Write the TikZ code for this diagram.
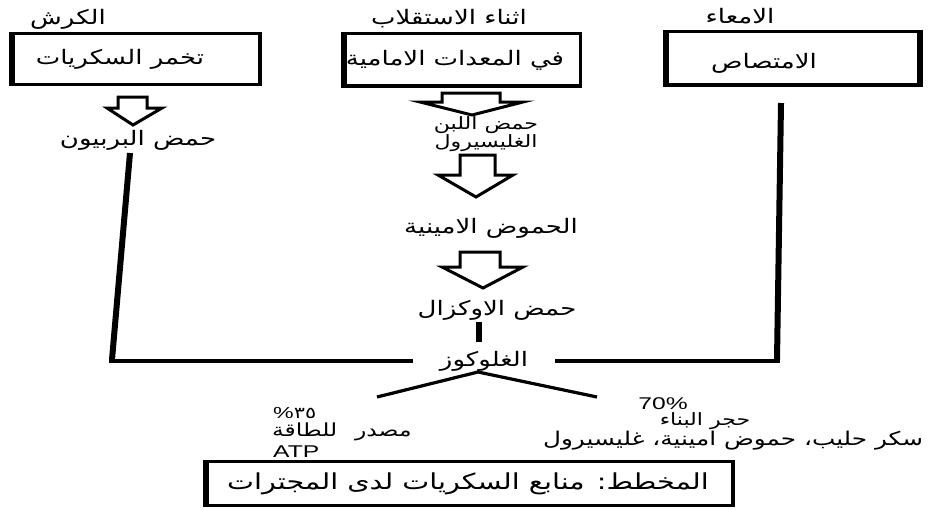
\documentclass[tikz,border=0pt]{standalone}
\usepackage{fontspec}
\TeXXeTstate=1
\newfontfamily\arabicfont[Script=Arabic,FakeStretch=1.3]{DejaVu Sans}
\newfontfamily\latinfont[FakeStretch=1.45]{Liberation Sans}
\newcommand{\AR}[1]{\beginR #1\endR}
\begin{document}
\begin{tikzpicture}[x=1pt,y=-1pt,
  txt/.style={inner sep=0pt, font=\arabicfont\fontsize{20}{22}\selectfont},
  mid/.style={inner sep=0pt, font=\arabicfont\fontsize{17}{19}\selectfont},
  small/.style={inner sep=0pt, font=\arabicfont\fontsize{16}{18}\selectfont},
  lat/.style={inner sep=0pt, font=\latinfont\fontsize{17}{19}\selectfont},
  frame/.style={draw, line width=3.5pt, inner sep=0pt, outer sep=0pt},
  heavyedge/.style={line width=6.5pt, shorten <=-1.75pt, shorten >=-1.75pt},
  heavy/.style={line width=6pt},
  med/.style={line width=3.2pt},
  barrow/.style={draw, fill=white, line width=3pt, line join=miter}
]
\useasboundingbox (0,0) rectangle (944,509);
\fill[white] (0,0) rectangle (944,509);

% top labels
\node[txt] (lab1) at (68,19) {\AR{الكرش}};
\node[txt] (lab2) at (449,19) {\AR{اثناء الاستقلاب}};
\node[txt] (lab3) at (740,16) {\AR{الامعاء}};

% boxes
\node[frame, minimum width=248pt, minimum height=51pt] (b1) at (136,59) {};
\node[frame, minimum width=236.5pt, minimum height=52.5pt] (b2) at (462.25,59.75) {};
\node[frame, minimum width=254pt, minimum height=53.5pt] (b3) at (793,58.25) {};
\node[frame, minimum width=527pt, minimum height=44pt] (b4) at (469.5,483.5) {};
\draw[heavyedge] (b1.north west) -- (b1.south west);
\draw[heavyedge] (b2.north west) -- (b2.south west);
\draw[heavyedge] (b3.north west) -- (b3.south west);
\draw[heavyedge] (b3.north east) -- (b3.south east);
\draw[heavyedge] (b4.north west) -- (b4.south west);

\node[txt] (t1) at (120,59) {\AR{تخمر السكريات}};
\node[txt] (t2) at (455,60) {\AR{في المعدات الامامية}};
\node[txt] (t3) at (764,63) {\AR{الامتصاص}};
\node[txt, font=\arabicfont\fontsize{22}{24}\selectfont] (t4) at (468,484) {\AR{المخطط: منابع السكريات لدى المجترات}};

% left column
\node[txt] (prop) at (138,140) {\AR{حمض البربيون}};
\draw[barrow] (118,97) -- (147,97) -- (147,108) -- (162,108) -- (133,125) -- (107,108) -- (118,108) -- cycle;

% middle column
\draw[barrow] (442,93) -- (500,93) -- (500,102) -- (523,102) -- (472,115) -- (420,102) -- (442,102) -- cycle;
\node[mid] (lac) at (486,125) {\AR{حمض اللبن}};
\node[mid] (gly) at (486,143) {\AR{الغليسيرول}};
\draw[barrow] (460,155) -- (495,155) -- (495,175) -- (513,175) -- (476,197) -- (438,175) -- (460,175) -- cycle;
\node[txt] (amino) at (491,228) {\AR{الحموض الامينية}};
\draw[barrow] (460,252) -- (500,252) -- (500,267) -- (523,267) -- (483,288) -- (442,267) -- (460,267) -- cycle;
\node[txt] (oxal) at (497,310) {\AR{حمض الاوكزال}};
\coordinate (s1) at (479,322);
\coordinate (s2) at (479,342);
\draw[heavy] (s1) -- (s2);

% glucose
\node[txt, minimum width=142pt] (glu) at (484,361) {\AR{الغلوكوز}};
\coordinate (pl1) at (130,153);
\coordinate (pl2) at (112,361);
\coordinate (pr1) at (781,103);
\coordinate (pr2) at (777,361);
\draw[heavy] (pl1) -- ([yshift=1.5pt]pl2);
\draw[med] ([xshift=-3pt]pl2) -- (glu.west);
\draw[heavy] (pr1) -- ([yshift=1.5pt]pr2);
\draw[med] ([xshift=3pt]pr2) -- (glu.east);

% branches
\coordinate (apex) at (478,372);
\coordinate (vl) at (377,397);
\coordinate (vr) at (597,397);
\draw[med] (vl) -- (apex) -- (vr);

% left branch label
\node[small, anchor=west] (pct) at (273,413) {{\latinfont\%}{\arabicfont ٣٥}};
\node[small, font=\arabicfont\fontsize{18}{20}\selectfont, anchor=west] (energy) at (272,432) {\AR{مصدر\hspace{18pt}للطاقة}};
\node[lat, anchor=west] (atp) at (273,452) {ATP};

% right branch label
\node[lat] (p70) at (663,404) {70\%};
\node[small, font=\arabicfont\fontsize{17}{19}\selectfont] (build) at (705,421) {\AR{حجر البناء}};
\node[txt, font=\arabicfont\fontsize{19}{21}\selectfont] (sug) at (733,441) {\AR{سكر حليب، حموض امينية، غليسيرول}};
\end{tikzpicture}
\end{document}
